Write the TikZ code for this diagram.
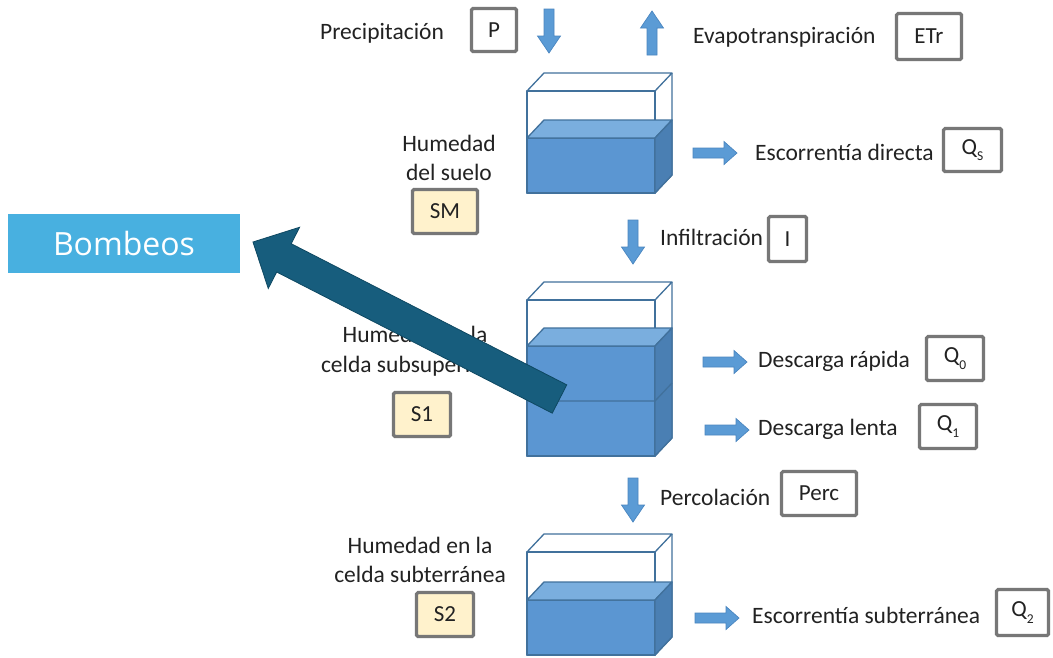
\documentclass[tikz,border=0pt]{standalone}
\usepackage{fontspec}
\setmainfont{Carlito}
\newfontfamily\bombfont{Open Sans}
\usetikzlibrary{calc}

\definecolor{ink}{HTML}{222222}
\definecolor{boxgray}{HTML}{777777}
\definecolor{stfill}{HTML}{FFF2CC}
\definecolor{tankedge}{HTML}{41719C}
\definecolor{waterfront}{HTML}{5B96D2}
\definecolor{watertop}{HTML}{7AAEDE}
\definecolor{waterside}{HTML}{4A7FB3}
\definecolor{flowfill}{HTML}{5B9BD5}
\definecolor{flowedge}{HTML}{4A86C0}
\definecolor{bombfill}{HTML}{48B0E0}
\definecolor{pumpfill}{HTML}{175D7D}
\definecolor{pumpedge}{HTML}{0E4862}

% one storage cell: empty box with a water block inside
% #1 top of front face, #2 water level, #3 bottom of front face
\newcommand\wtank[3]{%
  \draw[tankline] (527,#1) rectangle (655,#3);
  \draw[tankline] (527,#1) -- ++(17,-18) -- (672,#1-18) -- (655,#1);
  \draw[tankline] (672,#1-18) -- (672,#3-18) -- (655,#3);
  \filldraw[tankline, fill=waterfront] (527,#2) rectangle (655,#3);
  \filldraw[tankline, fill=watertop] (527,#2) -- ++(17,-18) -- (672,#2-18) -- (655,#2) -- cycle;
  \filldraw[tankline, fill=waterside] (655,#2) -- (672,#2-18) -- (672,#3-18) -- (655,#3) -- cycle;
}
\newcommand\qsub[1]{Q\raisebox{-0.28em}{\fontsize{13.5}{13.5}\selectfont #1}}

\tikzset{
  tankline/.style={draw=tankedge, line width=1.3pt, line join=round},
  label/.style={font=\fontsize{23.5}{29.5}\selectfont, text=ink, inner sep=0pt},
  stack/.style={label, align=center},
  valbox/.style={draw=boxgray, line width=3.2pt, fill=white, rounded corners=1.5pt,
    inner sep=0pt, font=\fontsize{23}{26}\selectfont, text=ink},
  statebox/.style={valbox, fill=stfill},
  pics/flowarrow/.style={code={
    \filldraw[fill=flowfill, draw=flowedge, line width=0.7pt, line join=miter]
      (0,-5) -- (#1,-5) -- (#1,-11.5) -- (44,0) -- (#1,11.5) -- (#1,5) -- (0,5) -- cycle;}},
}

\begin{document}
\begin{tikzpicture}[x=1pt, y=-1pt]
\useasboundingbox (0,0) rectangle (1053,657);
\fill[white] (0,0) rectangle (1053,657);

% storage cells
\wtank{91}{138}{193}
\wtank{300}{346}{456}
\draw[tankline] (527,401) -- (655,401) -- (672,383);
\wtank{552}{600}{655}

% input and output fluxes
\node[label, anchor=base west] (lprec) at (320,39) {Precipitación};
\node[valbox, minimum width=45, minimum height=43] (P) at (494,30) {P};
\pic[rotate=-90] at (549,9) {flowarrow=27};

\pic[rotate=90] at (652,55) {flowarrow=27};
\node[label, anchor=base west] (levap) at (693,43) {Evapotranspiración};
\node[valbox, minimum width=65, minimum height=46] (ETr) at (929,36.5) {ETr};

\pic at (693,153) {flowarrow=31};
\node[label, anchor=base west] (lqs) at (755,160) {Escorrentía directa};
\node[valbox, minimum width=58, minimum height=43] (Qs) at (972.5,150) {\qsub{S}};

\pic[rotate=-90] at (633,220) {flowarrow=27};
\node[label, anchor=base west] (linf) at (660,245) {Infiltración};
\node[valbox, minimum width=38, minimum height=45] (I) at (787.5,239) {I};

\pic at (703,362) {flowarrow=31};
\node[label, anchor=base west] (lq0) at (758,367) {Descarga rápida};
\node[valbox, minimum width=57, minimum height=44] (Q0) at (955,358.5) {\qsub{0}};

\pic at (705,430) {flowarrow=31};
\node[label, anchor=base west] (lq1) at (758,435) {Descarga lenta};
\node[valbox, minimum width=57, minimum height=44] (Q1) at (948,426.5) {\qsub{1}};

\pic[rotate=-90] at (633,478) {flowarrow=27};
\node[label, anchor=base west] (lperc) at (660,505) {Percolación};
\node[valbox, minimum width=75, minimum height=44] (Perc) at (819,493.5) {Perc};

\pic at (695,618) {flowarrow=31};
\node[label, anchor=base west] (lq2) at (752,623) {Escorrentía subterránea};
\node[valbox, minimum width=52, minimum height=46] (Q2) at (1022.5,612.5) {\qsub{2}};

% storage states
\node[stack] (lsm) at (449,158) {Humedad\\del suelo};
\node[statebox, minimum width=65, minimum height=44] (SM) at (445,211.5) {SM};

\node[stack] (ls1) at (415,351) {Humedad en la\\celda subsuperficial};
\node[statebox, minimum width=57, minimum height=44] (S1) at (422,414.5) {S1};

\node[stack] (ls2) at (420,560) {Humedad en la\\celda subterránea};
\node[statebox, minimum width=57, minimum height=44] (S2) at (445,614.5) {S2};

% pumping
\node[fill=bombfill, minimum width=232, minimum height=59, inner sep=0pt,
      text=white, font=\bombfont\fontsize{32}{36}\selectfont] (bomb) at (124,243.5) {Bombeos};

\coordinate (pumptail) at (559.5,399);
\coordinate (pumptip) at (253,242);
\coordinate (pumphb) at ($(pumptail)!0.899!(pumptip)$);
\filldraw[fill=pumpfill, draw=pumpedge, line width=0.8pt, line join=miter]
  ($(pumptail)!15.9pt!90:(pumptip)$) --
  ($(pumphb)!15.9pt!-90:(pumptail)$) --
  ($(pumphb)!34.4pt!-90:(pumptail)$) --
  (pumptip) --
  ($(pumphb)!34.4pt!90:(pumptail)$) --
  ($(pumphb)!15.9pt!90:(pumptail)$) --
  ($(pumptail)!15.9pt!-90:(pumptip)$) -- cycle;
\end{tikzpicture}
\end{document}
